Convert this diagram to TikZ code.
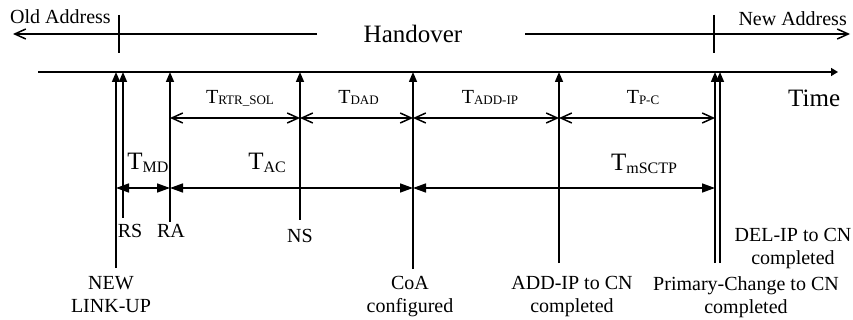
\documentclass[tikz,border=0pt]{standalone}
\usepackage{fontspec}
\setmainfont{Liberation Serif}
\usetikzlibrary{arrows.meta}
\tikzset{
evline/.style={line width=1.5pt,-{Triangle[length=10pt,width=8pt]}},
gapline/.style={line width=1.5pt,{Straight Barb[length=11pt,width=10pt]}-{Straight Barb[length=11pt,width=10pt]}},
spanline/.style={line width=1.5pt,{Triangle[length=13pt,width=9pt]}-{Triangle[length=13pt,width=9pt]}},
addrline/.style={line width=1.5pt,-{Straight Barb[length=11pt,width=10pt]}},
txt/.style={font=\fontsize{20}{23}\selectfont, inner sep=0pt, align=center},
bigtxt/.style={font=\fontsize{25}{30}\selectfont, inner sep=0pt}}
\newcommand{\Tgap}[1]{{\fontsize{20}{24}\selectfont T}\raisebox{-1pt}{\fontsize{13}{15}\selectfont #1}}
\newcommand{\Tspan}[1]{{\fontsize{25}{30}\selectfont T}\raisebox{-3pt}{\fontsize{16}{19}\selectfont #1}}
\begin{document}
\begin{tikzpicture}[x=1pt,y=-1pt]
            \useasboundingbox (0,0) rectangle (853,320);

                \coordinate (t0) at (38,72);
                \coordinate (t1) at (838,72);
                \coordinate (d1) at (0,118);
                \coordinate (d2) at (0,188);
                \coordinate (lu) at (116,268);
                \coordinate (rs) at (123,218);
                \coordinate (ra) at (170,222);
                \coordinate (ns) at (300,220);
                \coordinate (coa) at (413,269);
                \coordinate (add) at (559,263);
                \coordinate (pc) at (715,263);
                \coordinate (del) at (720,263);
                \coordinate (oa) at (13,34);
                \coordinate (ob) at (317,34);
                \coordinate (na) at (850,34);
                \coordinate (nb) at (525,34);
                \coordinate (otick) at (119,15);
                \coordinate (ntick) at (714,15);

                % address line
                \draw[addrline] (ob) -- (oa);
                \draw[addrline] (nb) -- (na);
                \draw[line width=1.5pt] (otick) -- ++(0,38);
                \draw[line width=1.5pt] (ntick) -- ++(0,38);
                \node[txt, anchor=base west] (oldaddr) at (10,24) {Old Address};
                \node[txt, anchor=base east] (newaddr) at (847,26) {New Address};
                \node[bigtxt, anchor=base] (handover) at (413,43) {Handover};

                % time axis
                \draw[line width=1.5pt,-{Triangle[length=7pt,width=8pt]}] (t0) -- (t1);
                \node[bigtxt, anchor=base west] (time) at (788,107) {Time};

                \draw[evline] (lu) -- (lu |- t0);
                \draw[evline] (rs) -- (rs |- t0);
                \draw[evline] (ra) -- (ra |- t0);
                \draw[evline] (ns) -- (ns |- t0);
                \draw[evline] (coa) -- (coa |- t0);
                \draw[evline] (add) -- (add |- t0);
                \draw[evline] (pc) -- (pc |- t0);
                \draw[evline] (del) -- (del |- t0);

                \draw[gapline] (ra |- d1) -- (ns |- d1) node[midway, xshift=5pt, yshift=14pt, anchor=base] {\Tgap{RTR\_SOL}};
                \draw[gapline] (ns |- d1) -- (coa |- d1) node[midway, xshift=2pt, yshift=14pt, anchor=base] {\Tgap{DAD}};
                \draw[gapline] (coa |- d1) -- (add |- d1) node[midway, xshift=4pt, yshift=14pt, anchor=base] {\Tgap{ADD-IP}};
                \draw[gapline] (add |- d1) -- (pc |- d1) node[midway, xshift=6pt, yshift=14pt, anchor=base] {\Tgap{P-C}};

                \draw[spanline] (lu |- d2) -- (ra |- d2);
                \draw[spanline] (ra |- d2) -- (coa |- d2);
                \draw[spanline] (coa |- d2) -- (pc |- d2);
                \node[anchor=base, inner sep=0pt] (tmd) at (148,170) {\Tspan{MD}};
                \node[anchor=base, inner sep=0pt] (tac) at (267,170) {\Tspan{AC}};
                \node[anchor=base, inner sep=0pt] (tmsctp) at (644,171) {\Tspan{mSCTP}};

                \node[txt, anchor=base] (rslbl) at (130,237) {RS};
                \node[txt, anchor=base] (ralbl) at (171,237) {RA};
                \node[txt, anchor=base] (nslbl) at (300,242) {NS};
                \node[txt, anchor=north] (lulbl) at (111,276) {NEW\\LINK-UP};
                \node[txt, anchor=north] (coalbl) at (410,276) {CoA\\configured};
                \node[txt, anchor=north] (addlbl) at (572,276) {ADD-IP to CN\\completed};
                \node[txt, anchor=north] (pclbl) at (746,276) {Primary-Change to CN\\completed};
                \node[txt, anchor=north] (dellbl) at (793,228) {DEL-IP to CN\\completed};

            \end{tikzpicture}
\end{document}
